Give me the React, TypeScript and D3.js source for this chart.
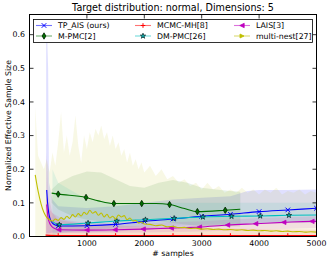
import * as d3 from "d3";

const W = 332;
const H = 263;

const xTicks = [1000, 2000, 3000, 4000, 5000];
const yTicks = [0, 0.1, 0.2, 0.3, 0.4, 0.5, 0.6];

// TP_AIS (ours)
const tpAisX = [300, 315, 335, 360, 400, 450, 500, 1000, 1500, 2000, 2500, 3000, 3500, 4000, 4500, 5000];
const tpAisY = [0.138, 0.1, 0.07, 0.052, 0.04, 0.034, 0.031, 0.032, 0.036, 0.045, 0.052, 0.06, 0.066, 0.074, 0.079, 0.084];
const tpAisMarks = [500, 1000, 1500, 2000, 2500, 3000, 3500, 4000, 4500, 5000];
const tpAisBandX = [290, 300, 325, 340, 400, 500, 1000, 1500, 2000, 2500, 3000, 3500, 3800, 4000, 4500, 5000];
const tpAisBandHi = [0.64, 0.64, 0.5, 0.16, 0.11, 0.09, 0.085, 0.09, 0.1, 0.11, 0.115, 0.12, 0.135, 0.138, 0.138, 0.14];
const tpAisBandLo = [0.01, 0.01, 0.01, 0.01, 0.012, 0.012, 0.013, 0.015, 0.02, 0.025, 0.03, 0.035, 0.038, 0.04, 0.042, 0.045];

// M-PMC[2]
const mpmcX = [386, 500, 985, 1200, 1470, 1955, 2200, 2440, 2700, 2925, 3410, 3672];
const mpmcY = [0.129, 0.126, 0.116, 0.106, 0.098, 0.098, 0.098, 0.095, 0.083, 0.074, 0.078, 0.081];
const mpmcMarks = [500, 985, 1470, 1955, 2440, 2925, 3410];
const mpmcBandX = [386, 500, 750, 1000, 1250, 1500, 1750, 2000, 2250, 2500, 2750, 3000, 3250, 3500, 3672];
const mpmcBandHi = [0.14, 0.158, 0.18, 0.193, 0.19, 0.17, 0.15, 0.145, 0.16, 0.168, 0.16, 0.145, 0.14, 0.135, 0.133];
const mpmcBandLo = [0.1, 0.08, 0.06, 0.05, 0.045, 0.045, 0.05, 0.05, 0.045, 0.04, 0.035, 0.03, 0.03, 0.03, 0.03];

// MCMC-MH[8]
const mcmcX = [280, 500, 1000, 1500, 2000, 2500, 3000, 3500, 4000, 4500, 5000];
const mcmcY = [0.004, 0.003, 0.003, 0.003, 0.003, 0.003, 0.003, 0.003, 0.003, 0.003, 0.003];
const mcmcMarks = [500, 1000, 1500, 2000, 2500, 3000, 3500, 4000, 4500, 5000];
const mcmcBandX = [280, 300, 350, 500, 1000, 2000, 3000, 4000, 5000];
const mcmcBandHi = [0.1, 0.12, 0.08, 0.05, 0.035, 0.03, 0.025, 0.022, 0.02];
const mcmcBandLo = [0, 0, 0, 0, 0, 0, 0, 0, 0];

// DM-PMC[26]
const dmpmcX = [400, 450, 520, 1020, 1520, 2020, 2520, 3020, 3520, 4020, 4520, 5000];
const dmpmcY = [0.045, 0.039, 0.035, 0.04, 0.046, 0.05, 0.054, 0.058, 0.06, 0.061, 0.063, 0.064];
const dmpmcMarks = [520, 1020, 1520, 2020, 2520, 3020, 3520, 4020, 4520];
const dmpmcBandX = [400, 500, 1000, 1500, 2000, 2500, 3000, 3500, 4000, 4500, 5000];
const dmpmcBandHi = [0.2, 0.16, 0.11, 0.1, 0.1, 0.1, 0.1, 0.1, 0.1, 0.1, 0.1];
const dmpmcBandLo = [0.0, 0.01, 0.02, 0.025, 0.03, 0.032, 0.035, 0.037, 0.038, 0.04, 0.04];

// LAIS[3]
const laisX = [300, 320, 350, 400, 450, 510, 1000, 1490, 1980, 2470, 2960, 3450, 3940, 4430, 4920, 5000];
const laisY = [0.095, 0.06, 0.04, 0.028, 0.023, 0.02, 0.019, 0.02, 0.022, 0.025, 0.028, 0.034, 0.038, 0.042, 0.045, 0.045];
const laisMarks = [510, 1000, 1490, 1980, 2470, 2960, 3450, 3940, 4430, 4920];
const laisBandX = [290, 300, 330, 400, 600, 1000, 2000, 3000, 4000, 5000];
const laisBandHi = [0.1, 0.25, 0.12, 0.07, 0.05, 0.04, 0.04, 0.045, 0.055, 0.06];
const laisBandLo = [0, 0, 0.005, 0.008, 0.01, 0.01, 0.012, 0.015, 0.02, 0.025];

// multi-nest[27]
const nestX = [
  100, 150, 200, 250, 300, 350, 400, 450, 500, 550, 600, 650, 700, 750, 800, 850, 900, 950, 1000,
  1050, 1100, 1150, 1200, 1250, 1300, 1350, 1400, 1450, 1500, 1550, 1600, 1650, 1700, 1750, 1800,
  1850, 1900, 1950, 2000, 2100, 2200, 2300, 2400, 2500, 2600, 2700, 2800, 2900, 3000, 3100, 3200,
  3300, 3400, 3500, 3600, 3700, 3800, 3900, 4000, 4100, 4200, 4300, 4400, 4500, 4600, 4700, 4800,
  4900, 5000,
];
const nestY = [
  0.183, 0.135, 0.098, 0.072, 0.057, 0.05, 0.046, 0.052, 0.048, 0.056, 0.051, 0.06, 0.054, 0.065,
  0.058, 0.068, 0.061, 0.072, 0.066, 0.078, 0.069, 0.074, 0.063, 0.07, 0.058, 0.066, 0.055, 0.06,
  0.052, 0.064, 0.058, 0.062, 0.05, 0.055, 0.046, 0.048, 0.04, 0.043, 0.037, 0.036, 0.032, 0.034,
  0.029, 0.03, 0.026, 0.027, 0.024, 0.025, 0.022, 0.023, 0.021, 0.022, 0.02, 0.021, 0.019, 0.02,
  0.018, 0.019, 0.017, 0.018, 0.016, 0.017, 0.015, 0.016, 0.014, 0.015, 0.013, 0.014, 0.013,
];
const nestHi = [
  0.385, 0.24, 0.22, 0.2, 0.23, 0.19, 0.25, 0.21, 0.28, 0.37, 0.25, 0.3, 0.24, 0.28, 0.36, 0.27,
  0.22, 0.3, 0.26, 0.31, 0.28, 0.32, 0.3, 0.33, 0.29, 0.31, 0.27, 0.3, 0.26, 0.28, 0.24, 0.26, 0.22,
  0.25, 0.21, 0.23, 0.2, 0.22, 0.19, 0.21, 0.18, 0.2, 0.17, 0.18, 0.16, 0.17, 0.15, 0.16, 0.14, 0.16,
  0.14, 0.15, 0.13, 0.14, 0.13, 0.145, 0.13, 0.14, 0.125, 0.14, 0.13, 0.145, 0.125, 0.135, 0.13,
  0.14, 0.125, 0.135, 0.13,
];
const nestMarks: number[] = [];

type Shape = "x" | "plus" | "left" | "right" | "diamond" | "star";

interface Series {
  name: string;
  color: string;
  edge: string;
  shape: Shape;
  size: number;
  alpha: number;
  x: number[];
  y: number[];
  marks: number[];
  bandX: number[];
  bandHi: number[];
  bandLo: number[] | null;
}

const series: Series[] = [
  { name: "TP_AIS (ours)", color: "#0000ff", edge: "#0000ff", shape: "x", size: 2.3, alpha: 0.12, x: tpAisX, y: tpAisY, marks: tpAisMarks, bandX: tpAisBandX, bandHi: tpAisBandHi, bandLo: tpAisBandLo },
  { name: "M-PMC[2]", color: "#007000", edge: "#002000", shape: "diamond", size: 3.2, alpha: 0.1, x: mpmcX, y: mpmcY, marks: mpmcMarks, bandX: mpmcBandX, bandHi: mpmcBandHi, bandLo: mpmcBandLo },
  { name: "MCMC-MH[8]", color: "#ff0000", edge: "#ff0000", shape: "plus", size: 2.3, alpha: 0.1, x: mcmcX, y: mcmcY, marks: mcmcMarks, bandX: mcmcBandX, bandHi: mcmcBandHi, bandLo: mcmcBandLo },
  { name: "DM-PMC[26]", color: "#00bfbf", edge: "#0d2e2e", shape: "star", size: 2.2, alpha: 0.1, x: dmpmcX, y: dmpmcY, marks: dmpmcMarks, bandX: dmpmcBandX, bandHi: dmpmcBandHi, bandLo: dmpmcBandLo },
  { name: "LAIS[3]", color: "#bf00bf", edge: "#bf00bf", shape: "left", size: 2.2, alpha: 0.1, x: laisX, y: laisY, marks: laisMarks, bandX: laisBandX, bandHi: laisBandHi, bandLo: laisBandLo },
  { name: "multi-nest[27]", color: "#bfbf00", edge: "#bfbf00", shape: "right", size: 2, alpha: 0.1, x: nestX, y: nestY, marks: nestMarks, bandX: nestX, bandHi: nestHi, bandLo: null },
];

// legend order (matplotlib ncol=3 fills columns first)
const legendCols = [
  ["TP_AIS (ours)", "M-PMC[2]"],
  ["MCMC-MH[8]", "DM-PMC[26]"],
  ["LAIS[3]", "multi-nest[27]"],
];

function shapePath(shape: Shape, s: number): string {
  switch (shape) {
    case "x":
      return `M${-s},${-s}L${s},${s}M${-s},${s}L${s},${-s}`;
    case "plus":
      return `M${-s},0L${s},0M0,${-s}L0,${s}`;
    case "left":
      return `M${-s},0L${s},${-s}L${s},${s}Z`;
    case "right":
      return `M${s},0L${-s},${-s}L${-s},${s}Z`;
    case "diamond":
      return `M0,${-s}L${s * 0.6},0L0,${s}L${-s * 0.6},0Z`;
    case "star":
      return d3.symbol(d3.symbolStar, s * s * 1.8)() || "";
  }
}

function Marker({ s, cx, cy }: { s: Series; cx: number; cy: number }) {
  const open = s.shape === "x" || s.shape === "plus";
  return (
    <path
      d={shapePath(s.shape, s.size)}
      transform={`translate(${cx},${cy})`}
      fill={open ? "none" : s.color}
      stroke={s.edge}
      strokeWidth={open ? 1 : 0.8}
    />
  );
}

export default function App() {
  const left = 29.5;
  const right = 316.5;
  const top = 14.5;
  const bottom = 236.5;

  const x = d3.scaleLinear().domain([0, 5000]).range([left, right]);
  const y = d3.scaleLinear().domain([0, 0.66]).range([bottom, top]);

  const font = "DejaVu Sans, sans-serif";

  const byName = new Map(series.map((s) => [s.name, s]));

  return (
    <svg
      width={W}
      height={H}
      style={{ position: "absolute", left: 0, top: 0, background: "#fff" }}
      fontFamily={font}
    >
      <defs>
        <clipPath id="plot">
          <rect x={left} y={top} width={right - left} height={bottom - top} />
        </clipPath>
      </defs>

      <g clipPath="url(#plot)">
        {series.map((s) => {
          const area = d3
            .area<number>()
            .x((_, i) => x(s.bandX[i]))
            .y0((_, i) => (s.bandLo ? y(s.bandLo[i]) : y(0)))
            .y1((d) => y(d));
          return (
            <path key={"band" + s.name} d={area(s.bandHi) || ""} fill={s.color} fillOpacity={s.alpha} />
          );
        })}
        {series.map((s) => {
          const line = d3
            .line<number>()
            .x((_, i) => x(s.x[i]))
            .y((d) => y(d))
            .curve(d3.curveMonotoneX);
          return (
            <g key={"line" + s.name}>
              <path d={line(s.y) || ""} fill="none" stroke={s.color} strokeWidth={1.1} />
              {s.marks.map((m) => {
                const i = s.x.indexOf(m);
                return <Marker key={m} s={s} cx={x(m)} cy={y(s.y[i])} />;
              })}
            </g>
          );
        })}
      </g>

      {/* ticks */}
      {xTicks.map((t) => (
        <g key={"xt" + t}>
          <line x1={x(t)} x2={x(t)} y1={bottom} y2={bottom - 4} stroke="#000" strokeWidth={0.8} />
          <line x1={x(t)} x2={x(t)} y1={top} y2={top + 4} stroke="#000" strokeWidth={0.8} />
          <text x={x(t)} y={246} fontSize={7.8} textAnchor="middle">
            {t}
          </text>
        </g>
      ))}
      {yTicks.map((t) => (
        <g key={"yt" + t}>
          <line x1={left} x2={left + 4} y1={y(t)} y2={y(t)} stroke="#000" strokeWidth={0.8} />
          <line x1={right} x2={right - 4} y1={y(t)} y2={y(t)} stroke="#000" strokeWidth={0.8} />
          <text x={25} y={y(t)} dy="0.35em" fontSize={7.8} textAnchor="end">
            {t.toFixed(1)}
          </text>
        </g>
      ))}

      <rect x={left} y={top} width={right - left} height={bottom - top} fill="none" stroke="#000" strokeWidth={1} />

      {/* legend */}
      <rect x={33.5} y={19.5} width={279} height={23} fill="#fff" stroke="#000" strokeWidth={0.8} />
      {legendCols.map((col, ci) =>
        col.map((name, ri) => {
          const s = byName.get(name)!;
          const lx = 36 + ci * 99;
          const ly = 25.5 + ri * 10.5;
          return (
            <g key={name}>
              <line x1={lx} x2={lx + 16} y1={ly} y2={ly} stroke={s.color} strokeOpacity={0.55} strokeWidth={1.1} />
              <Marker s={s} cx={lx + 8} cy={ly} />
              <text x={lx + 22} y={ly} dy="0.35em" fontSize={7.8}>
                {name}
              </text>
            </g>
          );
        })
      )}

      <text x={(left + right) / 2} y={10.5} fontSize={9.6} textAnchor="middle">
        Target distribution: normal, Dimensions: 5
      </text>
      <text x={(left + right) / 2} y={256} fontSize={7.8} textAnchor="middle">
        # samples
      </text>
      <text transform={`translate(8.5,${(top + bottom) / 2}) rotate(-90)`} fontSize={7.8} textAnchor="middle" dy="0.35em">
        Normalized Effective Sample Size
      </text>
    </svg>
  );
}
